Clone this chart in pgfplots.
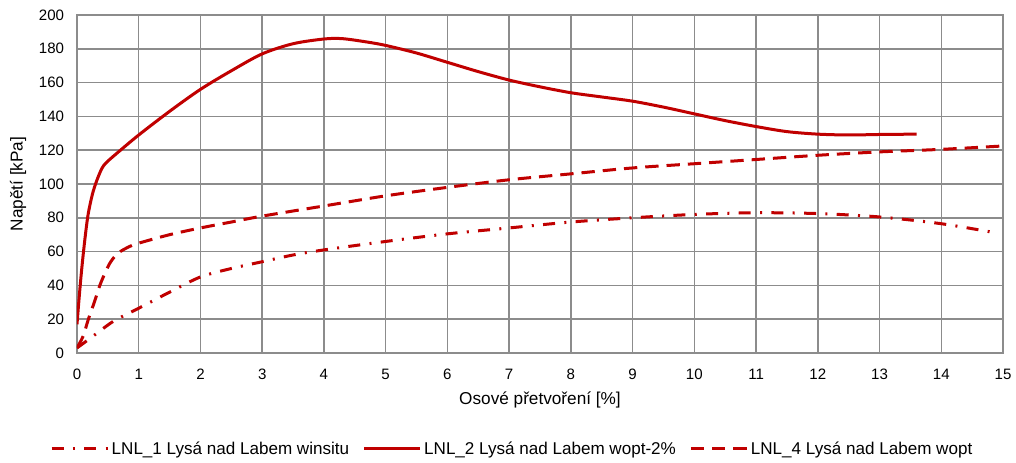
\documentclass[border=0pt]{standalone}
\usepackage{pgfplots}
\pgfplotsset{compat=1.18}
\usepackage{fontspec}
\setmainfont{Liberation Sans}
\definecolor{lred}{HTML}{C00000}
\definecolor{gridc}{HTML}{8C8C8C}
\begin{document}
\fontsize{12}{14}\selectfont
\begin{tikzpicture}
\begin{axis}[
  at={(0pt,0pt)}, anchor=south west,
  scale only axis, width=694.5pt, height=253.5pt,
  xmin=0, xmax=15, ymin=0, ymax=200,
  xtick={0,1,...,15}, ytick={0,20,...,200},
  grid=major,
  major grid style={gridc, line width=1.1pt},
  axis line style={gridc, line width=1.1pt},
  major tick length=0pt,
  tick label style={font=\fontsize{11.3}{13}\selectfont},
  /pgf/number format/assume math mode=true,
  xticklabel style={yshift=-8pt},
  yticklabel style={xshift=-5.5pt},
  xlabel={Osové přetvoření [\%]},
  ylabel={Napětí [kPa]},
  xlabel style={at={(axis description cs:0.5,-0.14)}, anchor=center, font=\fontsize{12.9}{15}\selectfont},
  ylabel style={at={(axis description cs:-0.0637,0.5)}, anchor=center, rotate=0, font=\fontsize{12.9}{15}\selectfont},
  legend style={at={(axis description cs:0.4703,-0.284)}, anchor=center, draw=none, fill=none,
    legend columns=3, font=\fontsize{12.8}{15}\selectfont,
    /tikz/every even column/.append style={column sep=8pt}},
  legend image code/.code={\draw[#1] (0pt,0pt) -- (42pt,0pt);},
  clip=true,
]
\addplot[lred, line width=2.25pt, dash pattern=on 9pt off 7pt on 1.5pt off 7pt, smooth] coordinates {
(0,3) (0.15,7) (0.32,11.6) (0.6,19) (1,26.5) (1.5,36) (2,45) (2.5,50) (3,54) (3.5,58) (4,61) (5,66) (6,70.5) (7,74) (8,77.5) (9,80) (10,82) (11,83) (12,82.5) (13,80.5) (14,76.5) (14.9,71)
};
\addlegendentry{LNL\_1 Lysá nad Labem winsitu}
\addplot[lred, line width=2.25pt, smooth] coordinates {
(0,17) (0.04,35) (0.08,51) (0.13,68) (0.18,82) (0.25,94) (0.32,102) (0.4,109) (0.47,112.5) (0.64,118) (1.0,129) (1.5,143) (2,156) (2.5,167) (3,177) (3.5,183) (4,185.8) (4.3,186) (4.7,184) (5,182) (5.5,177.5) (6,172) (6.5,166.5) (7,161.5) (7.5,157.5) (8,154) (8.5,151.5) (9,149) (9.5,145.5) (10,141.5) (10.5,137.5) (11,134) (11.5,131) (12,129.5) (12.5,129) (13,129.3) (13.6,129.5)
};
\addlegendentry{LNL\_2 Lysá nad Labem wopt-2\%}
\addplot[lred, line width=2.25pt, dash pattern=on 10pt off 6pt, smooth] coordinates {
(0,3) (0.1,10) (0.18,19.5) (0.28,30) (0.37,40) (0.45,47) (0.53,53) (0.62,57.5) (0.7,60) (0.85,63) (1,65) (1.5,70) (2,74) (2.5,77.5) (3,81) (4,87) (5,93) (6,98) (7,102.5) (8,106) (9,109.5) (10,112) (11,114.5) (12,117) (13,119) (14,120.5) (15,122.5)
};
\addlegendentry{LNL\_4 Lysá nad Labem wopt}
\end{axis}
\pgfresetboundingbox
\path (-57.75pt,-82.5pt) rectangle (704.25pt,264.75pt);
\end{tikzpicture}
\end{document}
